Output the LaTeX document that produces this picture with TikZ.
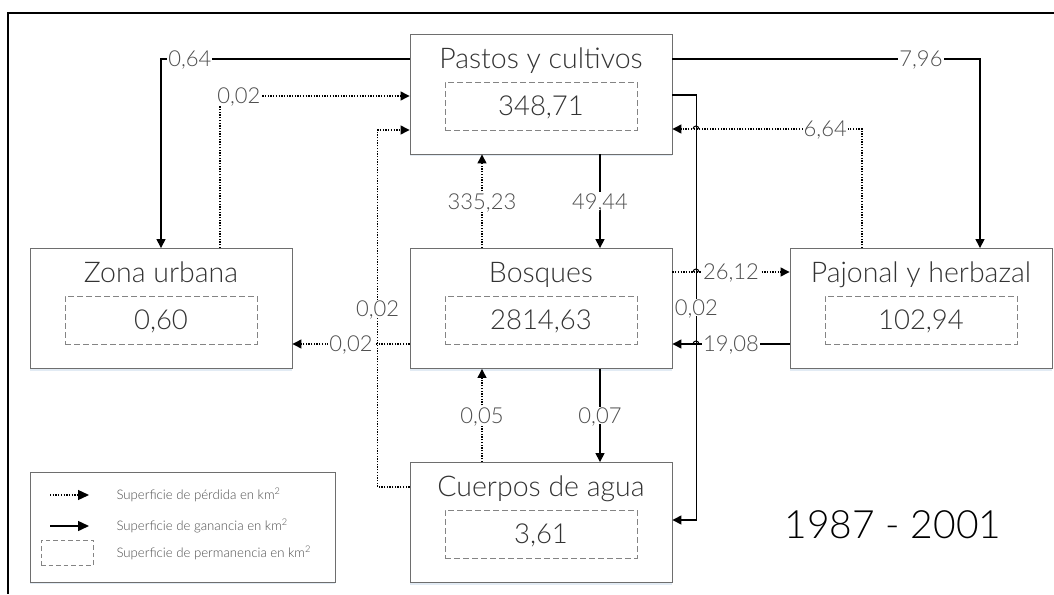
\documentclass[tikz,border=0pt]{standalone}
\usepackage{fontspec}
\setmainfont{Lato Light}
\usetikzlibrary{arrows.meta,shadows}

\definecolor{boxgray}{HTML}{6E6E6E}
\definecolor{txtgray}{HTML}{333333}
\definecolor{lblgray}{HTML}{4D4D4D}
\definecolor{glowblue}{HTML}{D6E2F0}

\begin{document}
\begin{tikzpicture}[x=1pt,y=-1pt,
      glow/.style={drop shadow={shadow xshift=0pt,shadow yshift=-2pt,fill=glowblue,opacity=.7}},
      cover/.style={draw=boxgray,line width=.9pt,fill=white,inner sep=0pt,minimum width=262pt,minimum height=120pt,glow},
      title/.style={anchor=base,text=txtgray,font=\fontsize{28.5}{33}\selectfont},
      stay/.style={draw=boxgray!85,line width=.8pt,dash pattern=on 6pt off 3pt,fill=white,inner sep=0pt,minimum width=192pt,minimum height=48pt,text depth=0pt,text=txtgray,font=\fontsize{27.5}{31}\selectfont},
      gain/.style={draw=black,line width=1.5pt,-{Triangle[width=9pt,length=9pt]}},
      loss/.style={gain,line width=1.3pt,dash pattern=on 1.3pt off 1.4pt},
      hop/.style={draw=black,line width=1pt},
      lbl/.style={fill=white,inner sep=1pt,text depth=0pt,text=lblgray,font=\fontsize{22}{24}\selectfont},
      legtext/.style={anchor=west,text=lblgray,font=\fontsize{13.2}{15}\selectfont}]
      \useasboundingbox (0,0) rectangle (1054,594);
      \draw[line width=2pt] (1054,13) -- (8,13) -- (8,594);

      \node[cover] (pc) at (541,94) {};
      \node[title] (pct) at (541,68) {Pastos y cultivos};
      \node[stay] (pcv) at (541,106) {348,71};
      \node[cover] (zu) at (161,308.5) {};
      \node[title] (zut) at (161,282.5) {Zona urbana};
      \node[stay] (zuv) at (161,320) {0,60};
      \node[cover] (bq) at (541,308.5) {};
      \node[title] (bqt) at (541,282.5) {Bosques};
      \node[stay] (bqv) at (541,320) {2814,63};
      \node[cover] (ph) at (921,308.5) {};
      \node[title] (pht) at (921,282.5) {Pajonal y herbazal};
      \node[stay] (phv) at (921,320) {102,94};
      \node[cover] (ca) at (541,522.5) {};
      \node[title] (cat) at (541,496.5) {Cuerpos de agua};
      \node[stay] (cav) at (541,534) {3,61};

      \draw[gain] ([yshift=35pt]pc.west) -| (zu.north) node[lbl,pos=.442] {0,64};
      \draw[loss] ([xshift=59pt]zu.north) |- ([yshift=-2pt]pc.west) node[lbl,pos=.55] {0,02};
      \draw[loss] ([yshift=35.5pt]ca.west) -- ++(-32pt,0) |- ([yshift=-36pt]pc.west) node[lbl,pos=.25] {0,02};
      \draw[loss] ([yshift=-35.5pt]bq.west) -- ([yshift=-35.5pt]zu.east) node[lbl,pos=.5] {0,02};
      \draw[loss] ([xshift=-59pt]bq.north) -- ([xshift=-59pt]pc.south) node[lbl,pos=.5] {335,23};
      \draw[gain] ([xshift=59pt]pc.south) -- ([xshift=59pt]bq.north) node[lbl,pos=.5] {49,44};
      \draw[loss] ([xshift=-59pt]ca.north) -- ([xshift=-59pt]bq.south) node[lbl,pos=.5] {0,05};
      \draw[gain] ([xshift=59pt]bq.south) -- ([xshift=59pt]ca.north) node[lbl,pos=.5] {0,07};
      \draw[gain] ([yshift=-1pt]pc.east) -- ++(24pt,0) |- ([yshift=2.5pt]ca.east) node[lbl,pos=.25] {0,02};
      \draw[gain] ([yshift=35pt]pc.east) -| ([xshift=59pt]ph.north) node[lbl,pos=.404] {7,96};
      \draw[loss] ([xshift=-59pt]ph.north) |- ([yshift=-35pt]pc.east) node[lbl,pos=.597] {6,64};
      \draw[loss] ([yshift=36.5pt]bq.east) -- ([yshift=36.5pt]ph.west) node[lbl,pos=.5] {26,12};
      \draw[gain] ([yshift=-35.5pt]ph.west) -- ([yshift=-35.5pt]bq.east) node[lbl,pos=.5] {19,08};
      % line jumps over the 0,02 line
      \draw[hop] (693,129) arc (180:0:3pt);
      \draw[hop] (693,272) arc (180:0:3pt);
      \draw[hop] (693,344) arc (180:0:3pt);

      \node[cover,minimum width=305pt,minimum height=110pt] (leg) at (182.5,527) {};
      \coordinate (lp1) at (50,495);
      \coordinate (lp2) at (89,495);
      \coordinate (lg1) at (50,526);
      \coordinate (lg2) at (89,526);
      \draw[loss,-{Triangle[width=10pt,length=11pt]}] (lp1) -- (lp2);
      \draw[gain,-{Triangle[width=10pt,length=11pt]}] (lg1) -- (lg2);
      \node[stay,minimum width=52pt,minimum height=25pt,dash pattern=on 4.5pt off 3pt] (lpm) at (67,552.5) {};
      \node[legtext] (lpt) at (113,495) {Superficie de pérdida en km\textsuperscript{2}};
      \node[legtext] (lgt) at (113,526) {Superficie de ganancia en km\textsuperscript{2}};
      \node[legtext] (lmt) at (113,553) {Superficie de permanencia en km\textsuperscript{2}};

      \node[text=black,font=\fontsize{39}{44}\selectfont] (year) at (893,525) {1987 - 2001};
   \end{tikzpicture}
\end{document}
